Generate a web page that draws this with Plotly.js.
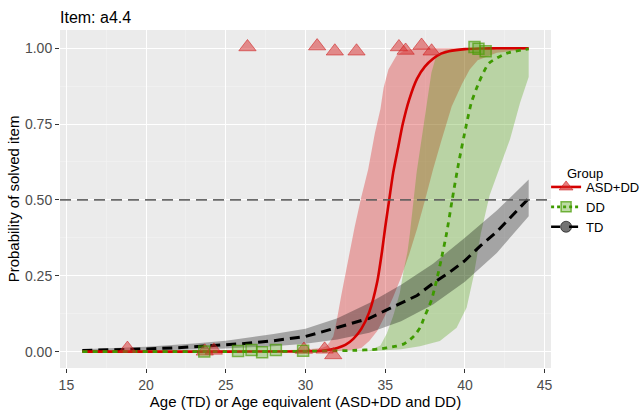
<!DOCTYPE html>
<html>
<head>
<meta charset="utf-8">
<script src="https://cdn.plot.ly/plotly-3.0.1.min.js"></script>
<style>html,body{margin:0;padding:0;background:#fff;}#chart{width:643px;height:411px;}</style>
</head>
<body>
<div id="chart"></div>
<script>
// ---- Data ----
const groups = ["ASD+DD", "DD", "TD"];
const legendTitle = "Group";

// ASD+DD fitted curve and ribbon
const asdFitX = [16,20,25,29,30,31,31.5,32,32.5,33,33.5,34,34.5,34.8,35,35.25,35.5,35.8,36.1,36.5,37,37.5,38,38.5,39,40,41,42,44];
const asdFitY = [0,0,0,0.0005,0.001,0.003,0.006,0.012,0.022,0.042,0.075,0.13,0.23,0.33,0.41,0.5,0.59,0.67,0.75,0.83,0.9,0.94,0.965,0.982,0.99,0.997,0.999,1,1];
const asdHiX = [16,25,29,30,31,31.3,31.5,31.74,31.95,32.26,32.67,33.08,33.5,33.93,34.35,34.7,34.9,35.2,35.7,36.2,37,38,44];
const asdHiY = [0.001,0.003,0.005,0.007,0.012,0.018,0.03,0.05,0.1,0.19,0.30,0.41,0.51,0.60,0.72,0.80,0.87,0.93,0.975,0.993,0.999,1,1];
const asdLoX = [16,30,31,32,33,33.5,34,34.5,35,35.5,36,36.5,37,37.5,38,38.54,39.17,39.8,40.3,40.8,42,43.44,44];
const asdLoY = [0,0,0.0005,0.002,0.006,0.012,0.035,0.068,0.12,0.18,0.245,0.32,0.405,0.5,0.6,0.698,0.808,0.88,0.93,0.96,0.985,0.994,0.995];

// DD fitted curve and ribbon
const ddFitX = [16,25,30,33,34.5,35.7,36.2,36.8,37.2,37.4,37.9,38.2,38.5,38.85,39.2,39.6,40.1,40.4,40.9,41.5,42.6,44];
const ddFitY = [0,0,0.001,0.004,0.008,0.018,0.026,0.051,0.08,0.106,0.17,0.23,0.3,0.39,0.5,0.62,0.75,0.82,0.89,0.95,0.983,0.998];
const ddHiX = [16,30,34,34.7,35.1,35.5,35.92,36.13,36.4,36.55,36.76,36.97,37.28,37.6,37.9,38.2,38.8,40,44];
const ddHiY = [0.0005,0.002,0.004,0.02,0.06,0.117,0.194,0.26,0.33,0.39,0.5,0.59,0.70,0.81,0.92,0.975,0.995,1,1];
const ddLoX = [16,34,36,37.18,38.43,39.48,40.11,40.55,41.0,41.55,42.2,42.83,43.46,44];
const ddLoY = [0,0.001,0.008,0.018,0.035,0.079,0.145,0.25,0.39,0.515,0.61,0.7,0.82,0.905];

// TD fitted curve and ribbon
const tdFitX = [16,18,20,22,24,26,28,30,31.7,33,34,35,36,37,38,39,40,41,42,43,44];
const tdFitY = [0.004,0.006,0.009,0.013,0.019,0.026,0.036,0.05,0.075,0.095,0.11,0.135,0.16,0.185,0.225,0.26,0.3,0.35,0.395,0.45,0.505];
const tdBandX = [16,20,23,25,28,30,32,34,36,38,40,42,44];
const tdBandLo = [0.001,0.003,0.007,0.01,0.018,0.026,0.04,0.062,0.1,0.155,0.23,0.325,0.446];
const tdBandHi = [0.008,0.016,0.027,0.036,0.058,0.075,0.11,0.16,0.22,0.29,0.375,0.465,0.567];

// Observed points
const asdPtX = [18.83,23.68,24.25,29.9,31.2,31.74,26.36,30.73,31.84,33.2,35.86,36.28,37.28,37.91];
const asdPtY = [0.01,0.001,0.004,0.007,0.0075,-0.011,1.004,1.007,0.99,0.99,1.004,0.9925,1.009,0.99];
const ddPtX = [23.65,25.77,26.61,27.28,28.14,29.85,40.6,40.85,41.3];
const ddPtY = [0.0,0.002,0.005,-0.002,0.005,0.003,1.004,0.998,0.99];

const xTicks = [15,20,25,30,35,40,45];
const yTicks = [0,0.25,0.5,0.75,1];
const yTickText = ["0.00","0.25","0.50","0.75","1.00"];
const refLineY = 0.5;

// ---- Styles ----
const redLine = "#D50000", greenLine = "#3E9A00", blackLine = "#000000";

function ribbon(hx, hy, lx, ly, color) {
  return {
    x: hx.concat(lx.slice().reverse()),
    y: hy.concat(ly.slice().reverse()),
    type: "scatter", mode: "lines", fill: "toself",
    fillcolor: color, line: {width: 0}, hoverinfo: "skip", showlegend: false
  };
}

const traces = [
  ribbon(asdHiX, asdHiY, asdLoX, asdLoY, "rgba(215,0,0,0.3)"),
  ribbon(ddHiX, ddHiY, ddLoX, ddLoY, "rgba(70,155,0,0.3)"),
  ribbon(tdBandX, tdBandHi, tdBandX, tdBandLo, "rgba(0,0,0,0.3)"),
  {x: tdFitX, y: tdFitY, type: "scatter", mode: "lines", showlegend: false,
   line: {color: blackLine, width: 3, dash: "10px,6px"}},
  {x: asdFitX, y: asdFitY, type: "scatter", mode: "lines", showlegend: false,
   line: {color: redLine, width: 2.6, shape: "spline", smoothing: 0.6}},
  {x: ddFitX, y: ddFitY, type: "scatter", mode: "lines", showlegend: false,
   line: {color: greenLine, width: 2.8, dash: "5px,5px", shape: "spline", smoothing: 0.6}},
  {x: asdPtX, y: asdPtY, type: "scatter", mode: "markers", showlegend: false,
   marker: {symbol: "triangle-up", size: 15, color: "rgba(215,40,40,0.5)",
            line: {color: "rgba(205,30,30,0.55)", width: 1}}},
  {x: ddPtX, y: ddPtY, type: "scatter", mode: "markers", showlegend: false,
   marker: {symbol: "square", size: 11, color: "rgba(90,165,30,0.35)",
            line: {color: "rgba(70,155,0,0.65)", width: 1.5}}},
  // legend-only entries
  {x: [null], y: [null], type: "scatter", mode: "lines+markers", name: groups[0],
   line: {color: redLine, width: 2.6},
   marker: {symbol: "triangle-up", size: 12, color: "rgba(215,40,40,0.6)", line: {color: "rgba(205,30,30,0.6)", width: 1}}},
  {x: [null], y: [null], type: "scatter", mode: "lines+markers", name: groups[1],
   line: {color: greenLine, width: 2.6, dash: "dot"},
   marker: {symbol: "square", size: 10, color: "rgba(90,165,30,0.4)", line: {color: "rgba(70,155,0,0.7)", width: 1.5}}},
  {x: [null], y: [null], type: "scatter", mode: "lines+markers", name: groups[2],
   line: {color: blackLine, width: 2.6, dash: "dash"},
   marker: {symbol: "circle", size: 11, color: "rgba(0,0,0,0.55)", line: {color: "rgba(0,0,0,0.6)", width: 1}}}
];

const font = "Liberation Sans, Arial, sans-serif";
const layout = {
  width: 643, height: 411,
  margin: {l: 60, r: 92, t: 30, b: 43, autoexpand: false},
  paper_bgcolor: "#FFFFFF", plot_bgcolor: "#EBEBEB",
  font: {family: font, size: 13, color: "#000"},
  title: {text: "Item: a4.4", x: 60/643, xanchor: "left", xref: "container",
          y: 1 - 17/411, yanchor: "middle", font: {family: font, size: 16, color: "#000"}},
  xaxis: {
    range: [14.6, 45.4], tickvals: xTicks, ticktext: xTicks.map(String),
    showgrid: true, gridcolor: "#FFFFFF", gridwidth: 1.1, zeroline: false,
    minor: {dtick: 2.5, tick0: 12.5, showgrid: true, gridcolor: "#F4F4F4", gridwidth: 0.6, ticklen: 0},
    ticks: "outside", ticklen: 4, tickcolor: "#333333", tickwidth: 1,
    tickfont: {family: font, size: 14, color: "#4D4D4D"},
    title: {text: "Age (TD) or Age equivalent (ASD+DD and DD)", font: {family: font, size: 15, color: "#000"}, standoff: 3},
    showline: false, automargin: false
  },
  yaxis: {
    range: [-0.054, 1.06], tickvals: yTicks, ticktext: yTickText,
    showgrid: true, gridcolor: "#FFFFFF", gridwidth: 1.1, zeroline: false,
    minor: {dtick: 0.125, tick0: 0.125, showgrid: true, gridcolor: "#F4F4F4", gridwidth: 0.6, ticklen: 0},
    ticks: "outside", ticklen: 4, tickcolor: "#333333", tickwidth: 1,
    tickfont: {family: font, size: 14, color: "#4D4D4D"},
    title: {text: "Probability of solved item", font: {family: font, size: 15, color: "#000"}, standoff: 1},
    showline: false, automargin: false
  },
  shapes: [{type: "line", xref: "paper", x0: 0, x1: 1, yref: "y", y0: refLineY, y1: refLineY,
            line: {color: "rgba(90,90,90,0.9)", width: 1.6, dash: "11px,6px"}, layer: "above"}],
  annotations: [{text: legendTitle, xref: "paper", yref: "paper", x: (565 - 60) / 491, xanchor: "left",
                 y: 1 - (173 - 30) / 338, yanchor: "middle", showarrow: false,
                 font: {family: font, size: 13, color: "#000"}}],
  legend: {
    x: 0.99, xanchor: "left", y: 1 - (172 - 30) / 338, yanchor: "top",
    font: {family: font, size: 13, color: "#000"},
    bgcolor: "rgba(0,0,0,0)", itemwidth: 30, tracegroupgap: 0
  },
  showlegend: true
};

Plotly.newPlot("chart", traces, layout, {displayModeBar: false, staticPlot: true});
</script>
</body>
</html>
